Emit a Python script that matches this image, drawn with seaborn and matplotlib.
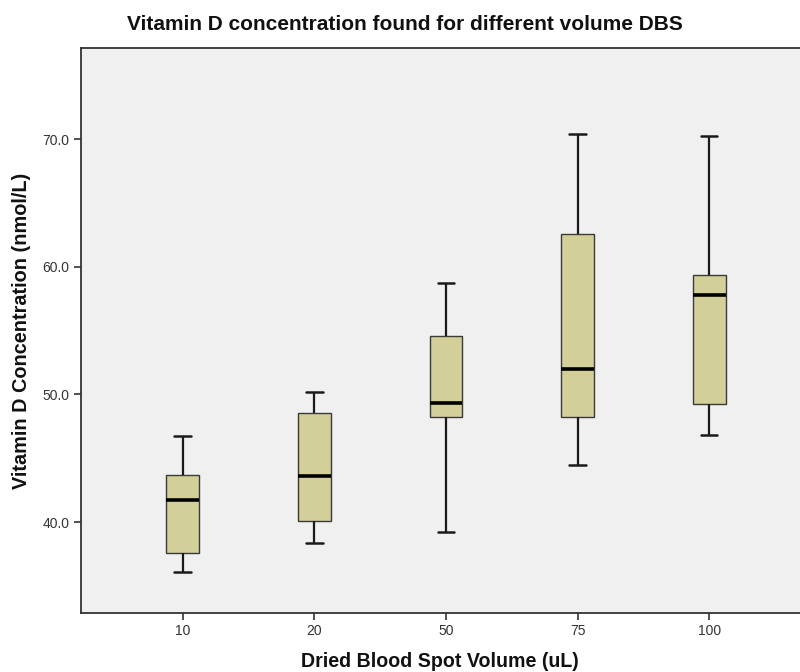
import numpy as np
import pandas as pd
import matplotlib
matplotlib.use("Agg")
import matplotlib.pyplot as plt
import seaborn as sns

# Five-number summaries of vitamin D (nmol/L) per dried blood spot volume
volumes = ["10", "20", "50", "75", "100"]
minimum = [36.06, 38.35, 39.24, 44.44, 46.84]
lower_q = [37.55, 40.06, 48.26, 48.26, 49.23]
median = [41.73, 43.61, 49.35, 51.99, 57.79]
upper_q = [43.68, 48.54, 54.58, 62.60, 59.34]
maximum = [46.74, 50.19, 58.71, 70.39, 70.28]

y_ticks = [40.0, 50.0, 60.0, 70.0]

# Long table: one row per summary value, so that the quartiles come out exact
rows = []
for v, a, b, c, d, e in zip(volumes, minimum, lower_q, median, upper_q, maximum):
    for val in (a, b, c, d, e):
        rows.append({"volume": v, "vitd": val})
df = pd.DataFrame(rows)

sns.set_theme(style="white")
plt.rcParams["font.family"] = ["Liberation Sans", "DejaVu Sans"]

fig = plt.figure(figsize=(8.0, 6.72), dpi=100)
ax = fig.add_axes([0.1009, 0.0873, 0.8991, 0.8413])
ax.set_facecolor("#F0F0F0")

sns.boxplot(
    data=df, x="volume", y="vitd", order=volumes, ax=ax,
    color="#D3CF98", width=0.25, whis=(0, 100), fliersize=0,
    linewidth=1.0, linecolor="#333333", saturation=1,
    boxprops=dict(edgecolor="#3a3a3a", linewidth=1.0),
    whiskerprops=dict(color="#1a1a1a", linewidth=1.6),
    capprops=dict(color="#1a1a1a", linewidth=1.8),
    medianprops=dict(color="black", linewidth=2.6),
    capwidths=0.125,
)

ax.set_xlim(-0.775, 4.69)
ax.set_ylim(32.84, 77.16)
ax.set_yticks(y_ticks)
ax.set_yticklabels([f"{t:.1f}" for t in y_ticks])

ax.tick_params(axis="both", which="major", direction="out", length=5, width=1.2,
               color="#333333", labelsize=10, labelcolor="#333333", pad=3,
               left=True, bottom=True)

for side in ("left", "bottom", "top"):
    ax.spines[side].set_color("#333333")
    ax.spines[side].set_linewidth(1.3)
ax.spines["right"].set_visible(False)

ax.set_xlabel("Dried Blood Spot Volume (uL)", fontsize=14.1, fontweight="bold",
              color="#111111", labelpad=10)
ax.set_ylabel("Vitamin D Concentration (nmol/L)", fontsize=14.3, fontweight="bold",
              color="#111111", labelpad=8)
fig.text(0.506, 0.963, "Vitamin D concentration found for different volume DBS",
         ha="center", va="center", fontsize=15, fontweight="bold", color="#111111")

fig.savefig("out.png", dpi=100)
